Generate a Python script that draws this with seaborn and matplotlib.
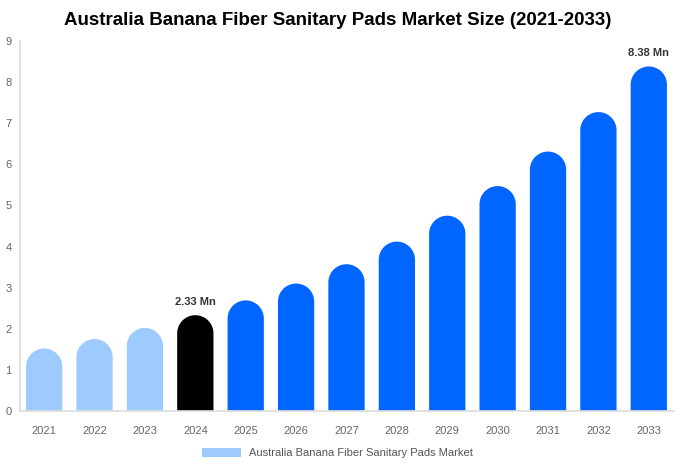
"""
Australia banana fiber sanitary pads market size, rounded bars
"""
import numpy as np
import pandas as pd
import matplotlib
matplotlib.use('Agg')
import matplotlib.pyplot as plt
import seaborn as sns
from matplotlib.patches import Polygon, Patch

years = ['2021', '2022', '2023', '2024', '2025', '2026', '2027',
         '2028', '2029', '2030', '2031', '2032', '2033']
market_size = [1.52, 1.75, 2.02, 2.33, 2.69, 3.10, 3.57,
               4.12, 4.75, 5.47, 6.31, 7.27, 8.38]
# history / base year / forecast
period = ['hist', 'hist', 'hist', 'base', 'fore', 'fore', 'fore',
          'fore', 'fore', 'fore', 'fore', 'fore', 'fore']
labelled = {'2024': '2.33 Mn', '2033': '8.38 Mn'}

colors = {'hist': '#9ECBFF', 'base': '#000000', 'fore': '#0066FF'}

sns.set_theme(style='white')
plt.rcParams['font.family'] = ['Liberation Sans', 'DejaVu Sans']

df = pd.DataFrame({'year': years, 'size': market_size, 'period': period})

fig = plt.figure(figsize=(6.75, 4.69), dpi=100)
ax = fig.add_axes([0.0296, 0.1237, 0.9704, 0.7889])

sns.barplot(data=df, x='year', y='size', hue='period', palette=colors,
            width=0.72, dodge=False, legend=False, saturation=1, ax=ax)

ax.set_ylim(0, 9)
ax.set_xlim(-0.48, 12.52)

# swap each flat bar for one outline with a round cap
fig.canvas.draw()
px_per_x = ax.transData.transform((1, 0))[0] - ax.transData.transform((0, 0))[0]
px_per_y = ax.transData.transform((0, 1))[1] - ax.transData.transform((0, 0))[1]
theta = np.linspace(0, np.pi, 60)
for bar in list(ax.patches):
    h = bar.get_height()
    if h <= 0:
        continue
    w = bar.get_width()
    x0 = bar.get_x()
    rx = w / 2
    ry = rx * px_per_x / px_per_y
    cx, cy = x0 + rx, h - ry
    arc = np.column_stack([cx + rx * np.cos(theta), cy + ry * np.sin(theta)])
    pts = np.vstack([[x0 + w, 0], arc, [x0, 0]])
    ax.add_patch(Polygon(pts, closed=True, facecolor=bar.get_facecolor(),
                         edgecolor='none', linewidth=0))
    bar.remove()

for i, (yr, val) in enumerate(zip(years, market_size)):
    if yr in labelled:
        ax.text(i, val + 0.2, labelled[yr], ha='center', va='bottom',
                fontsize=8, fontweight='bold', color='#333333')

ax.set_xlabel('')
ax.set_ylabel('')
ax.set_yticks(range(0, 10))
ax.tick_params(axis='both', length=0, labelsize=8, colors='#666666')
ax.tick_params(axis='x', pad=11)
ax.tick_params(axis='y', pad=6)
for side in ['top', 'right']:
    ax.spines[side].set_visible(False)
ax.spines['left'].set_color('#dddddd')
ax.spines['bottom'].set_color('#dddddd')

fig.suptitle('Australia Banana Fiber Sanitary Pads Market Size (2021-2033)',
             x=0.5, y=0.975, fontsize=13.5, fontweight='bold', color='#000000')

handle = Patch(facecolor=colors['hist'], edgecolor='none')
fig.legend([handle], ['Australia Banana Fiber Sanitary Pads Market'],
           loc='center', bbox_to_anchor=(0.5, 0.034), frameon=False,
           fontsize=8, labelcolor='#555555', handlelength=3.5, handleheight=0.9)

fig.savefig('out.png', dpi=100)
